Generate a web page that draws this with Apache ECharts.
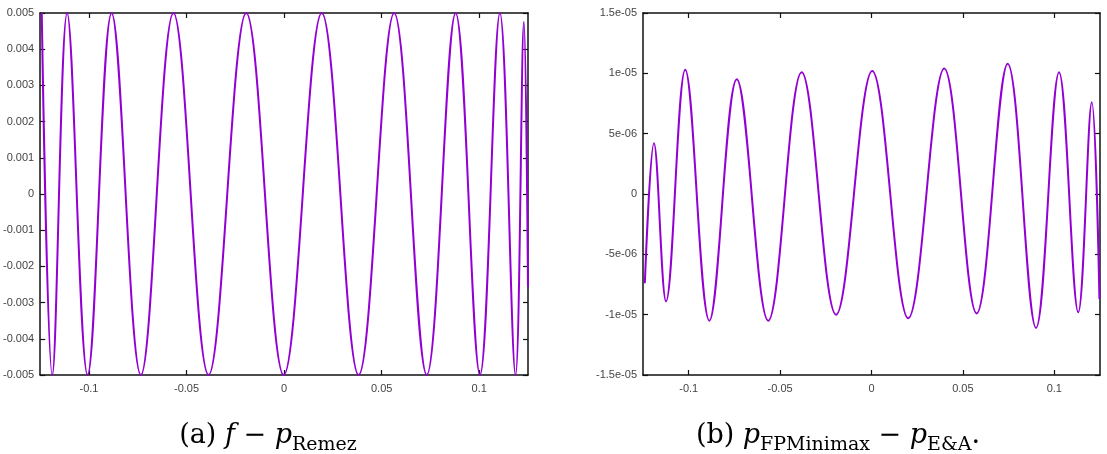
<!DOCTYPE html>
<html>
<head>
<meta charset="utf-8">
<script src="https://cdn.jsdelivr.net/npm/echarts@6/dist/echarts.min.js"></script>
<style>
html,body{margin:0;padding:0;background:#fff;}
#chart{width:1107px;height:454px;}
</style>
</head>
<body>
<div id="chart"></div>
<script>
// ---- data (extrema of each curve) ----
const xTicks = [-0.1, -0.05, 0, 0.05, 0.1];

// (a) f - p_Remez
const leftX = [-0.1242, -0.1188, -0.1112, -0.1007, -0.0884, -0.0734, -0.0567, -0.0387, -0.0194, -0.0002,
               0.0193, 0.0382, 0.0564, 0.0731, 0.0879, 0.1004, 0.1106, 0.1186, 0.1229, 0.1250];
const leftY = [0.0050, -0.0050, 0.0050, -0.0050, 0.0050, -0.0050, 0.0050, -0.0050, 0.0050, -0.0050,
               0.0050, -0.0050, 0.0050, -0.0050, 0.0050, -0.0050, 0.0050, -0.0050, 0.00476, -0.00257];

// (b) p_FPMinimax - p_E&A
const rightX = [-0.1240, -0.1190, -0.1124, -0.1019, -0.0887, -0.0737, -0.0565, -0.0382, -0.0194, 0.0004,
                0.0201, 0.0398, 0.0575, 0.0745, 0.0900, 0.1026, 0.1131, 0.1205, 0.1247];
const rightY = [-7.4e-6, 4.2e-6, -8.9e-6, 1.03e-5, -1.05e-5, 9.5e-6, -1.05e-5, 1.01e-5, -1.0e-5, 1.02e-5,
                -1.03e-5, 1.04e-5, -9.9e-6, 1.08e-5, -1.11e-5, 1.01e-5, -9.8e-6, 7.6e-6, -8.7e-6];

const captionA = '{n|(a) }{i|f}{n| − }{i|p}{s|Remez}';
const captionB = '{n|(b) }{i|p}{s|FPMinimax}{n| − }{i|p}{s|E&A}{n|.}';

// ---- helpers ----
function pairs(xs, ys){ return xs.map((x,i)=>[x, ys[i]]); }
function gfmt(v){
  if (Math.abs(v) < 1e-15) return '0';
  const s = Number(v.toPrecision(6)).toExponential();
  return s.replace(/e([+-])(\d)$/, 'e$10$2');
}
const LINE = {show:true, onZero:false, lineStyle:{color:'#111', width:1.5}};
const LABEL = {color:'#444', fontSize:11, fontFamily:'Liberation Sans, Arial, sans-serif'};
function xAxis(grid, pos, showLabel){
  return {
    type:'value', gridIndex:grid, position:pos, min:-0.125, max:0.125,
    axisLine:LINE,
    axisTick:{show:true, inside:true, length:5, lineStyle:{color:'#111', width:1.2}, customValues:xTicks},
    axisLabel:Object.assign({show:showLabel, margin:8, customValues:xTicks}, LABEL),
    splitLine:{show:false}
  };
}
function yAxis(grid, pos, showLabel, mn, mx, step, fmt){
  return {
    type:'value', gridIndex:grid, position:pos, min:mn, max:mx, interval:step,
    axisLine:LINE,
    axisTick:{show:true, inside:true, length:5, lineStyle:{color:'#111', width:1.2}},
    axisLabel:Object.assign({show:showLabel, margin:6, formatter:fmt}, LABEL),
    splitLine:{show:false}
  };
}
const SERIF = 'DejaVu Serif, serif';
const textRich = {
  n:{fontFamily:SERIF, fontSize:27, color:'#111', fontWeight:'normal'},
  i:{fontFamily:SERIF, fontSize:27, color:'#111', fontStyle:'italic', fontWeight:'normal'},
  s:{fontFamily:SERIF, fontSize:19, color:'#111', fontWeight:'normal', padding:[18,0,0,0]}
};

const chart = echarts.init(document.getElementById('chart'), null, {renderer:'canvas'});
chart.setOption({
  animation:false,
  backgroundColor:'#fff',
  grid:[
    {left:39, top:13, width:489, height:362, containLabel:false},
    {left:643, top:13, width:457, height:362, containLabel:false}
  ],
  xAxis:[ xAxis(0,'bottom',true), xAxis(0,'top',false), xAxis(1,'bottom',true), xAxis(1,'top',false) ],
  yAxis:[
    yAxis(0,'left',true,-0.005,0.005,0.001),
    yAxis(0,'right',false,-0.005,0.005,0.001),
    yAxis(1,'left',true,-1.5e-5,1.5e-5,5e-6,gfmt),
    yAxis(1,'right',false,-1.5e-5,1.5e-5,5e-6,gfmt)
  ],
  series:[
    {type:'line', xAxisIndex:0, yAxisIndex:0, data:pairs(leftX,leftY), smooth:0.37, showSymbol:false,
     lineStyle:{color:'#9400D3', width:2}},
    {type:'line', xAxisIndex:2, yAxisIndex:2, data:pairs(rightX,rightY), smooth:0.37, showSymbol:false,
     lineStyle:{color:'#9400D3', width:2}}
  ],
  graphic:[
    {type:'text', x:268, y:436, style:{text:captionA, rich:textRich, align:'center', verticalAlign:'middle'}},
    {type:'text', x:838, y:436, style:{text:captionB, rich:textRich, align:'center', verticalAlign:'middle'}}
  ]
});
</script>
</body>
</html>
